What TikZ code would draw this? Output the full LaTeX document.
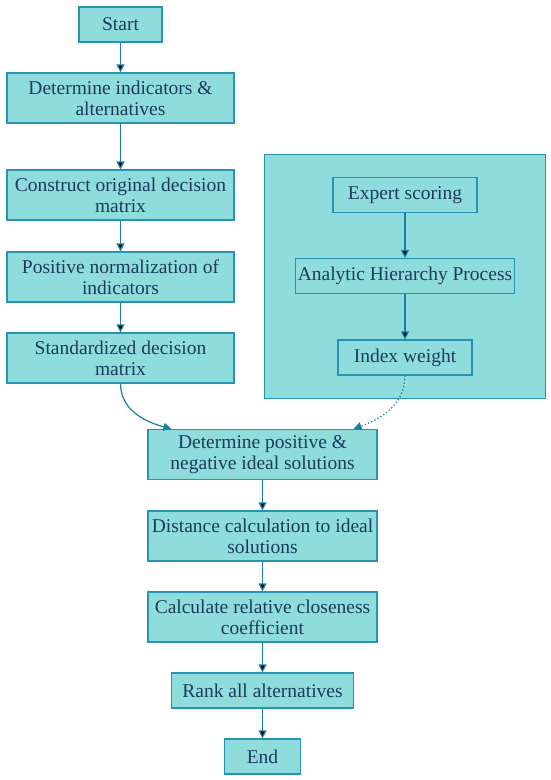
\documentclass[tikz,border=0pt]{standalone}
\usepackage{fontspec}
\setmainfont{Liberation Serif}
\usetikzlibrary{positioning,arrows.meta}

\definecolor{boxfill}{HTML}{8FDCDC}
\definecolor{boxline}{HTML}{2A92B2}
\definecolor{arrowline}{HTML}{1A7EA2}
\definecolor{textnavy}{HTML}{1C3B5E}

\tikzset{
  stepbox/.style={draw=boxline, fill=boxfill, line width=1.2pt, text=textnavy, align=center,
    minimum width=227pt, minimum height=50pt, inner sep=2pt, font=\fontsize{19.5}{21}\selectfont},
  smallbox/.style={stepbox, minimum height=35pt},
  flow/.style={-{Triangle[width=8pt,length=8pt]}, draw=arrowline, line width=1.2pt},
}

\begin{document}
\begin{tikzpicture}[x=1pt, y=1pt, on grid]
            \useasboundingbox (0,0) rectangle (550,-780);
            % weight panel
            \node[draw=boxline, fill=boxfill, line width=1pt, minimum width=281pt, minimum height=244pt] (panel) at (404.5,-276) {};

            % left column
            \node[smallbox, minimum width=83pt] (start) at (120.5,-24.5) {Start};
            \node[stepbox, below=73.5pt of start] (indic) {Determine indicators \&\\alternatives};
            \node[stepbox, below=97pt of indic] (orig) {Construct original decision\\matrix};
            \node[stepbox, below=82pt of orig] (norm) {Positive normalization of\\indicators};
            \node[stepbox, below=81pt of norm] (std) {Standardized decision\\matrix};

            % right column
            \node[smallbox, minimum width=144pt] (expert) at (405,-195) {Expert scoring};
            \node[smallbox, minimum width=219pt, below=81pt of expert] (ahp) {Analytic Hierarchy Process};
            \node[smallbox, minimum width=134pt, below=81.5pt of ahp] (weight) {Index weight};

            % lower column
            \node[stepbox, minimum width=229pt] (ideal) at (262.5,-454.5) {Determine positive \&\\negative ideal solutions};
            \node[stepbox, minimum width=229pt, below=81.5pt of ideal] (dist) {Distance calculation to ideal\\solutions};
            \node[stepbox, minimum width=229pt, below=81pt of dist] (close) {Calculate relative closeness\\coefficient};
            \node[smallbox, minimum width=182pt, below=73.5pt of close] (rank) {Rank all alternatives};
            \node[smallbox, minimum width=76pt, below=66pt of rank] (end) {End};

            \path[flow] (start) edge (indic);
            \path[flow] (indic) edge (orig);
            \path[flow] (orig) edge (norm);
            \path[flow] (norm) edge (std);
            \path[flow] (expert) edge (ahp);
            \path[flow] (ahp) edge (weight);
            \path[flow] (ideal) edge (dist);
            \path[flow] (dist) edge (close);
            \path[flow] (close) edge (rank);
            \path[flow] (rank) edge (end);

            \draw[flow] (std.south) to[out=-90, in=165] ([xshift=24pt]ideal.north west);
            \draw[flow, dash pattern=on 1.3pt off 2.2pt] (weight.south) to[out=-90, in=20] ([xshift=-24pt]ideal.north east);
        \end{tikzpicture}
\end{document}
